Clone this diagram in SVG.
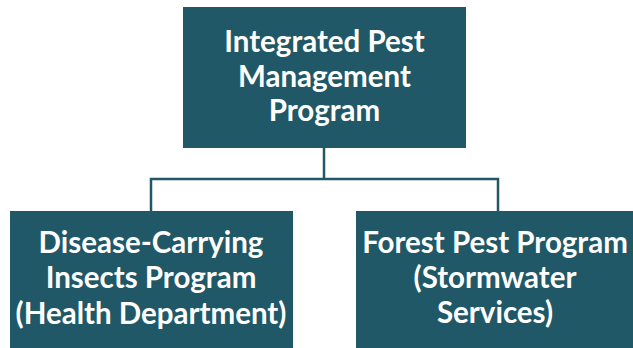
<svg xmlns="http://www.w3.org/2000/svg" width="633" height="348" viewBox="0 0 633 348">
<style>
.box{fill:#215867}
.t{font-family:Lato,"Liberation Sans",sans-serif;font-weight:bold;font-size:29.5px;fill:#ffffff;text-anchor:middle}
.c{fill:none;stroke:#215867;stroke-width:2.5}
</style>
<rect width="633" height="348" fill="#ffffff"/>
<g id="connectors">
<path class="c" d="M324,148 V179 M151,211 V179 H498 V211"/>
</g>
<g id="top">
<rect class="box" x="183" y="7" width="283" height="141"/>
<text class="t" x="324.5" y="52">Integrated Pest</text>
<text class="t" x="324.5" y="87">Management</text>
<text class="t" x="324.5" y="121">Program</text>
</g>
<g id="left">
<rect class="box" x="10" y="211" width="283" height="137"/>
<text class="t" x="151" y="253">Disease-Carrying</text>
<text class="t" x="151" y="288">Insects Program</text>
<text class="t" x="151" y="324">(Health Department)</text>
</g>
<g id="right">
<rect class="box" x="356" y="211" width="278" height="137"/>
<text class="t" x="495" y="253">Forest Pest Program</text>
<text class="t" x="495" y="288">(Stormwater</text>
<text class="t" x="495" y="323">Services)</text>
</g>
</svg>
